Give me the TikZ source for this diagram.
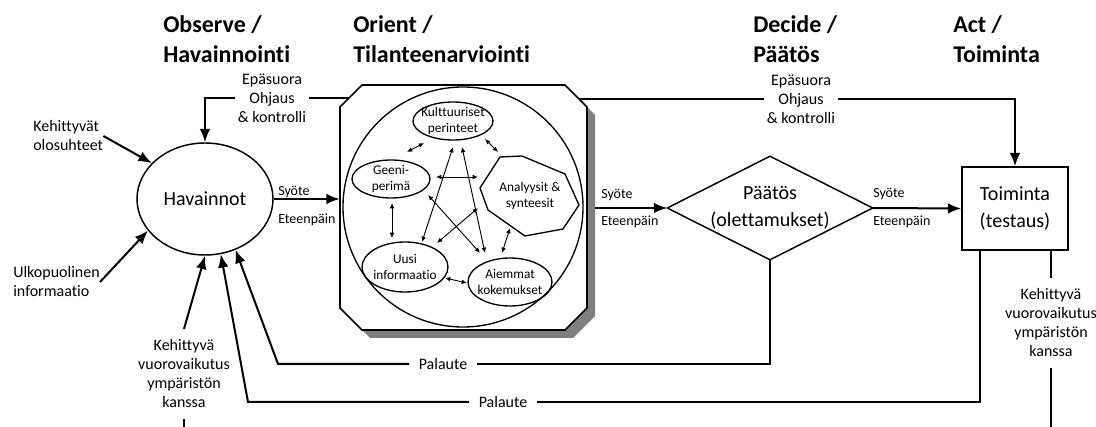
\documentclass[tikz,border=0pt]{standalone}
\usepackage{fontspec}
\setmainfont{Carlito}[Ligatures=NoCommon]
\usetikzlibrary{arrows.meta,calc,shapes.geometric}
\begin{document}
\begin{tikzpicture}[x=0.75pt,y=-0.75pt,
  conn/.style={line width=1.5pt, -{Latex[length=10pt,width=8pt]}},
  plain/.style={line width=1.5pt},
  innerarr/.style={line width=0.7pt, {Latex[length=4pt,width=3.5pt]}-{Latex[length=4pt,width=3.5pt]}},
  head/.style={font=\fontsize{18}{22.5}\selectfont\bfseries, align=left, inner sep=0pt, anchor=base west},
  big/.style={font=\fontsize{15}{20}\selectfont, align=center},
  lbl/.style={font=\fontsize{12}{14.25}\selectfont, align=center},
  smalllbl/.style={font=\fontsize{10.5}{12}\selectfont, inner sep=0pt, anchor=west},
  tinylbl/.style={font=\fontsize{10}{12}\selectfont, align=center},
  ell/.style={ellipse, draw, line width=1pt, inner sep=-6pt},
]
\useasboundingbox (0,0) rectangle (1096,427);

% headings (anchor at the baseline of the last line)
\node[head] (h1) at (163,63) {Observe /\\Havainnointi};
\node[head] (h2) at (353,63) {Orient /\\Tilanteenarviointi};
\node[head] (h3) at (753,63) {Decide /\\Päätös};
\node[head] (h4) at (953,63) {Act /\\Toiminta};

% orient box with shadow
\fill[black!50] (348,115) -- (370,93) -- (573,93) -- (595,115) -- (595,316) -- (573,338) -- (370,338) -- (348,316) -- cycle;
\draw[line width=1.2pt, fill=white] (340,107) -- (362,85) -- (565,85) -- (587,107) -- (587,308) -- (565,330) -- (362,330) -- (340,308) -- cycle;
\node[minimum width=185.25pt, minimum height=183.75pt, inner sep=0pt] (O) at (463.5,207.5) {};
\coordinate (Otl) at (349,98);
\coordinate (Otr) at (579,99);
\coordinate (Osh) at (595,208);
\node[circle, draw, line width=1pt, minimum size=180pt, inner sep=0pt] (circ) at (463,207) {};

% inner nodes
\node[ell, tinylbl, minimum width=60pt, minimum height=28.5pt] (K) at (453,121) {Kulttuuriset\\perinteet};
\node[ell, tinylbl, minimum width=58.5pt, minimum height=28.5pt] (G) at (391,179) {Geeni-\\perimä};
\node[ell, tinylbl, minimum width=64.5pt, minimum height=37.5pt] (U) at (405,267) {Uusi\\informaatio};
\node[ell, tinylbl, minimum width=63pt, minimum height=36pt] (M) at (510,282) {Aiemmat\\kokemukset};
\draw[line width=1pt] (500,157) -- (522,156) -- (565,174) -- (579,205) -- (563,229) -- (525,236) -- (488,210) -- (480,188) -- cycle;
\node[tinylbl, inner sep=0pt] (A) at (530,196) {Analyysit \&\\synteesit};

% inner arrows
\draw[innerarr] ($(K)+(-29,22)$) -- ($(G)+(16,-27)$);
\draw[innerarr] ($(K)+(32,18)$) -- ($(A)+(-32,-44)$);
\draw[innerarr] ($(G)+(45,-2)$) -- ($(A)+(-52,-19)$);
\draw[innerarr] ($(G)+(1,24)$) -- ($(U)+(-13,-29)$);
\draw[innerarr] ($(U)+(40,11)$) -- ($(M)+(-43,1)$);
\draw[innerarr] ($(A)+(-20,32)$) -- ($(M)+(-8,-29)$);
\draw[innerarr] ($(K)+(0,26)$) -- ($(U)+(17,-25)$);
\draw[innerarr] ($(K)+(9,26)$) -- ($(M)+(-25,-29)$);
\draw[innerarr] ($(G)+(37,16)$) -- ($(M)+(-30,-29)$);
\draw[innerarr] ($(A)+(-52,12)$) -- ($(U)+(32,-24)$);

% main nodes
\node[ellipse, draw, line width=1.1pt, inner sep=0pt, minimum width=102pt, minimum height=84pt, big] (hav) at (205,199) {Havainnot};
\node[minimum width=153.75pt, minimum height=77.25pt, inner sep=0pt, big] (D) at (770,208) {Päätös\\(olettamukset)};
\draw[line width=1.1pt] (D.west) -- (D.north) -- (D.east) -- (D.south) -- cycle;
\node[draw, line width=1.1pt, minimum width=79.5pt, minimum height=62.25pt, inner sep=0pt, big] (T) at (1015,208.5) {Toiminta\\(testaus)};

% labels
\node[lbl, inner sep=2pt] (e1) at (272,98) {Epäsuora\\Ohjaus\\\& kontrolli};
\node[lbl, inner sep=2pt] (e2) at (801,99) {Epäsuora\\Ohjaus\\\& kontrolli};
\node[lbl, align=left, anchor=west, inner sep=0pt] (ko) at (33,136) {Kehittyvät\\olosuhteet};
\node[lbl, align=left, anchor=west, inner sep=0pt] (ui) at (13,282) {Ulkopuolinen\\informaatio};
\node[lbl, inner xsep=1pt, inner ysep=8pt] (kl) at (184,374) {Kehittyvä\\vuorovaikutus\\ympäristön\\kanssa};
\node[lbl, inner xsep=1pt, inner ysep=8pt] (kr) at (1051,323) {Kehittyvä\\vuorovaikutus\\ympäristön\\kanssa};
\node[lbl, inner xsep=7pt] (p1) at (443,364) {Palaute};
\node[lbl, inner xsep=7pt] (p2) at (503,402) {Palaute};
\node[smalllbl] (s1) at (278,192) {Syöte};
\node[smalllbl] (f1) at (278,220) {Eteenpäin};
\node[smalllbl] (s2) at (601,195) {Syöte};
\node[smalllbl] (f2) at (601,222) {Eteenpäin};
\node[smalllbl] (s3) at (873,194) {Syöte};
\node[smalllbl] (f3) at (873,222) {Eteenpäin};

% connectors
\draw[conn] (e1.west) -| (hav.north);
\draw[plain] (e1.east) -- (Otl);
\draw[plain] (Otr) -- (e2.west);
\draw[conn] (e2.east) -| (T.north);
\draw[conn] (hav.east) -- (hav.east -| O.west);
\draw[conn] (D.west -| Osh) -- (D.west);
\draw[conn] (D.east) -- (T.west);
\draw[conn] (ko.east) -- (hav.146);
\draw[conn] (ui.east) -- (hav.209);
\draw[conn] (kl.north) -- (hav.south);
\draw[plain] (kl.south) -- ++(0,12);
\draw[plain] (kr.north |- T.south) -- (kr.north);
\coordinate (krb) at (1051,427);
\draw[plain] (kr.south) -- (krb);
\coordinate (p1c) at (278,364);
\coordinate (p2c) at (248,402);
\draw[plain] (D.south) |- (p1.east);
\draw[conn] (p1.west) -- (p1c) -- (hav.301);
\draw[plain] ($(T.south west)+(19,0)$) |- (p2.east);
\draw[conn] (p2.west) -- (p2c) -- (hav.286);
\end{tikzpicture}
\end{document}
